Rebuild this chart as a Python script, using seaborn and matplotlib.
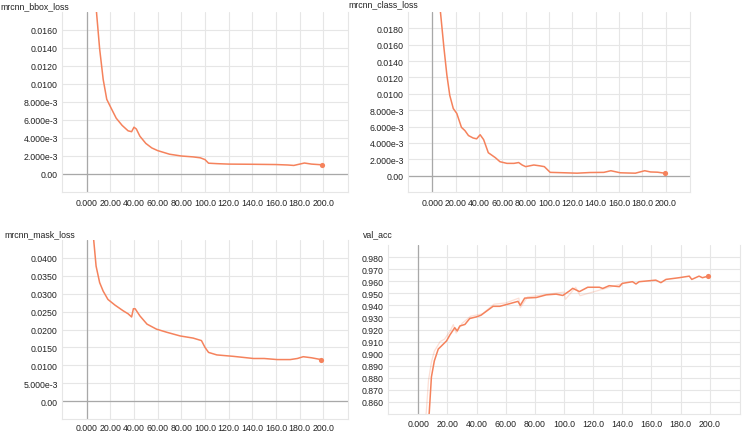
"""TensorBoard-style training curves: mrcnn losses and val_acc over 200 epochs."""
import matplotlib
matplotlib.use("Agg")
import matplotlib.pyplot as plt
import numpy as np
import pandas as pd
import seaborn as sns

W, H = 747, 435
LINE = "#f5825c"
GRID = "#e6e6e6"
ZERO = "#a8a8a8"

# ---- values ----
bbox_epoch = [1, 5, 8, 11, 14, 17, 20, 25, 30, 35, 38, 40, 42, 45, 50, 55, 60,
              70, 80, 90, 96, 100, 103, 110, 120, 140, 160, 170, 175, 180, 184,
              190, 199]
bbox_loss = [0.060, 0.030, 0.0185, 0.0139, 0.0105, 0.0083, 0.0075, 0.0062,
             0.0054, 0.0048, 0.0047, 0.0052, 0.0050, 0.0042, 0.0034, 0.0029,
             0.0026, 0.0022, 0.0020, 0.0019, 0.0018, 0.0016, 0.0012, 0.00115,
             0.0011, 0.00108, 0.00105, 0.0010, 0.00095, 0.0011, 0.00122,
             0.0011, 0.00102]

class_epoch = [1, 5, 7, 10, 12.5, 15, 18, 21, 25, 28, 31, 35, 38, 41, 44, 48,
               54, 58, 64, 70, 74, 77, 80, 87, 92, 96, 101, 106, 113, 124, 135,
               147, 153, 161, 168, 174, 182, 187, 193, 199]
class_loss = [0.060, 0.028, 0.0200, 0.0156, 0.0123, 0.0098, 0.0082, 0.0076,
              0.0059, 0.0055, 0.0049, 0.0046, 0.0045, 0.0050, 0.0044, 0.0028,
              0.0022, 0.0017, 0.0015, 0.0015, 0.0016, 0.0013, 0.0011, 0.0013,
              0.0012, 0.0011, 0.0004, 0.00038, 0.00035, 0.0003, 0.00038,
              0.0004, 0.0006, 0.00035, 0.00032, 0.0003, 0.0006, 0.00045,
              0.00042, 0.0003]

mask_epoch = [1, 6, 8, 11, 14, 18, 24, 31, 35, 38, 39.5, 41, 45, 51, 59, 68,
              79, 90, 97, 100, 103, 110, 124, 141, 150, 161, 172, 178, 183,
              190, 198]
mask_loss = [0.080, 0.0449, 0.0377, 0.0331, 0.0307, 0.0284, 0.0268, 0.0252,
             0.0244, 0.0235, 0.0258, 0.0258, 0.0238, 0.0215, 0.0201, 0.0192,
             0.0182, 0.0176, 0.0169, 0.0150, 0.0136, 0.0129, 0.0125, 0.0119,
             0.0119, 0.0116, 0.0116, 0.0119, 0.0124, 0.0121, 0.0116]

acc_epoch = [1, 7.5, 9, 11, 13.7, 16, 19.4, 21.7, 25, 26.7, 28.5, 32, 35.3, 40,
             43, 46.7, 51.3, 55.9, 62.7, 68.4, 70, 73, 81, 87.8, 94.6, 99.2,
             103.8, 106, 110.6, 116.3, 124.3, 126.6, 131, 138, 140, 147, 149.4,
             151.6, 163, 166.5, 170, 179, 186, 187.7, 192.7, 195, 199]
val_acc = [0.78, 0.851, 0.8807, 0.894, 0.9038, 0.9065, 0.9106, 0.9155, 0.9215,
           0.9188, 0.9229, 0.9242, 0.9291, 0.9305, 0.9318, 0.9351, 0.9392,
           0.9392, 0.9414, 0.9433, 0.9400, 0.9460, 0.9465, 0.9487, 0.9493,
           0.9482, 0.9520, 0.9541, 0.9514, 0.9550, 0.9550, 0.9540, 0.9563,
           0.9555, 0.9582, 0.9596, 0.9577, 0.9596, 0.9609, 0.9588, 0.9615,
           0.9629, 0.9642, 0.9615, 0.9642, 0.9629, 0.9642]
# faint unsmoothed trace, mostly visible where it runs ahead of the smoothing
acc_raw_epoch = [1, 5.5, 7, 9, 11, 13, 15, 18, 22, 24, 26, 30, 36, 44, 52,
                 60, 69, 70, 75, 100, 101, 108, 111, 140]
acc_raw = [0.80, 0.852, 0.878, 0.893, 0.902, 0.906, 0.910, 0.912, 0.919,
           0.924, 0.917, 0.925, 0.931, 0.933, 0.941, 0.942, 0.946, 0.938,
           0.947, 0.951, 0.945, 0.955, 0.948, 0.958]

x_ticks = [0, 20, 40, 60, 80, 100, 120, 140, 160, 180, 200]
x_labels = ["0.000", "20.00", "40.00", "60.00", "80.00", "100.0", "120.0",
            "140.0", "160.0", "180.0", "200.0"]

bbox_ticks = [0, 0.002, 0.004, 0.006, 0.008, 0.010, 0.012, 0.014, 0.016]
bbox_labels = ["0.00", "2.000e-3", "4.000e-3", "6.000e-3", "8.000e-3",
               "0.0100", "0.0120", "0.0140", "0.0160"]
class_ticks = bbox_ticks + [0.018]
class_labels = bbox_labels + ["0.0180"]
mask_ticks = [0, 0.005, 0.010, 0.015, 0.020, 0.025, 0.030, 0.035, 0.040]
mask_labels = ["0.00", "5.000e-3", "0.0100", "0.0150", "0.0200", "0.0250",
               "0.0300", "0.0350", "0.0400"]
acc_ticks = [0.86, 0.87, 0.88, 0.89, 0.90, 0.91, 0.92, 0.93, 0.94, 0.95,
             0.96, 0.97, 0.98]
acc_labels = [f"{v:.3f}" for v in acc_ticks]

sns.set_theme(style="white")
plt.rcParams["font.family"] = ["Liberation Sans", "DejaVu Sans"]
FS = 6.3

fig = plt.figure(figsize=(W / 100, H / 100), dpi=100)


def box(left, top, right, bottom):
    return [left / W, 1 - bottom / H, (right - left) / W, (bottom - top) / H]


def panel(rect, title, title_xy, ep, vals, ylim, yt, ylab, raw=None, xpad=4.5):
    ax = fig.add_axes(box(*rect))
    if raw is not None:
        sns.lineplot(x=raw[0], y=raw[1], ax=ax, color=LINE, alpha=0.25,
                     linewidth=0.9)
    df = pd.DataFrame({"epoch": ep, "value": vals})
    sns.lineplot(data=df, x="epoch", y="value", ax=ax, color=LINE,
                 linewidth=1.1)
    ax.scatter([ep[-1]], [vals[-1]], s=14, color=LINE, zorder=5,
               linewidths=0)
    ax.set_xlim(-20.8, 220.8)
    ax.set_ylim(*ylim)
    ax.set_xticks(x_ticks, x_labels)
    ax.set_yticks(yt, ylab)
    ax.grid(True, color=GRID, linewidth=0.8)
    ax.set_axisbelow(True)
    ax.axvline(0, color=ZERO, linewidth=0.9, zorder=1)
    if ylim[0] < 0 < ylim[1]:
        ax.axhline(0, color=ZERO, linewidth=0.9, zorder=1)
    ax.tick_params(length=0, labelsize=FS, colors="#222222", pad=3)
    ax.tick_params(axis="x", pad=xpad)
    ax.set_xlabel("")
    ax.set_ylabel("")
    for side, sp in ax.spines.items():
        sp.set_visible(side != "top")
        sp.set_color(GRID)
        sp.set_linewidth(0.8)
    fig.text(title_xy[0] / W, 1 - title_xy[1] / H, title, fontsize=FS,
             color="#222222", ha="left", va="center")
    return ax


panel((62, 13, 348, 193), "mrcnn_bbox_loss", (0, 7), bbox_epoch, bbox_loss,
      (-0.002, 0.018), bbox_ticks, bbox_labels)
panel((408, 13, 690, 193), "mrcnn_class_loss", (348, 5), class_epoch,
      class_loss, (-0.002, 0.020), class_ticks, class_labels)
panel((62, 241, 348, 420), "mrcnn_mask_loss", (4, 235), mask_epoch, mask_loss,
      (-0.005, 0.045), mask_ticks, mask_labels, xpad=3)
panel((388, 246, 740, 415), "val_acc", (363, 235), acc_epoch, val_acc,
      (0.850, 0.990), acc_ticks, acc_labels, raw=(acc_raw_epoch, acc_raw),
      xpad=3.5)

fig.savefig("out.png", dpi=100)
